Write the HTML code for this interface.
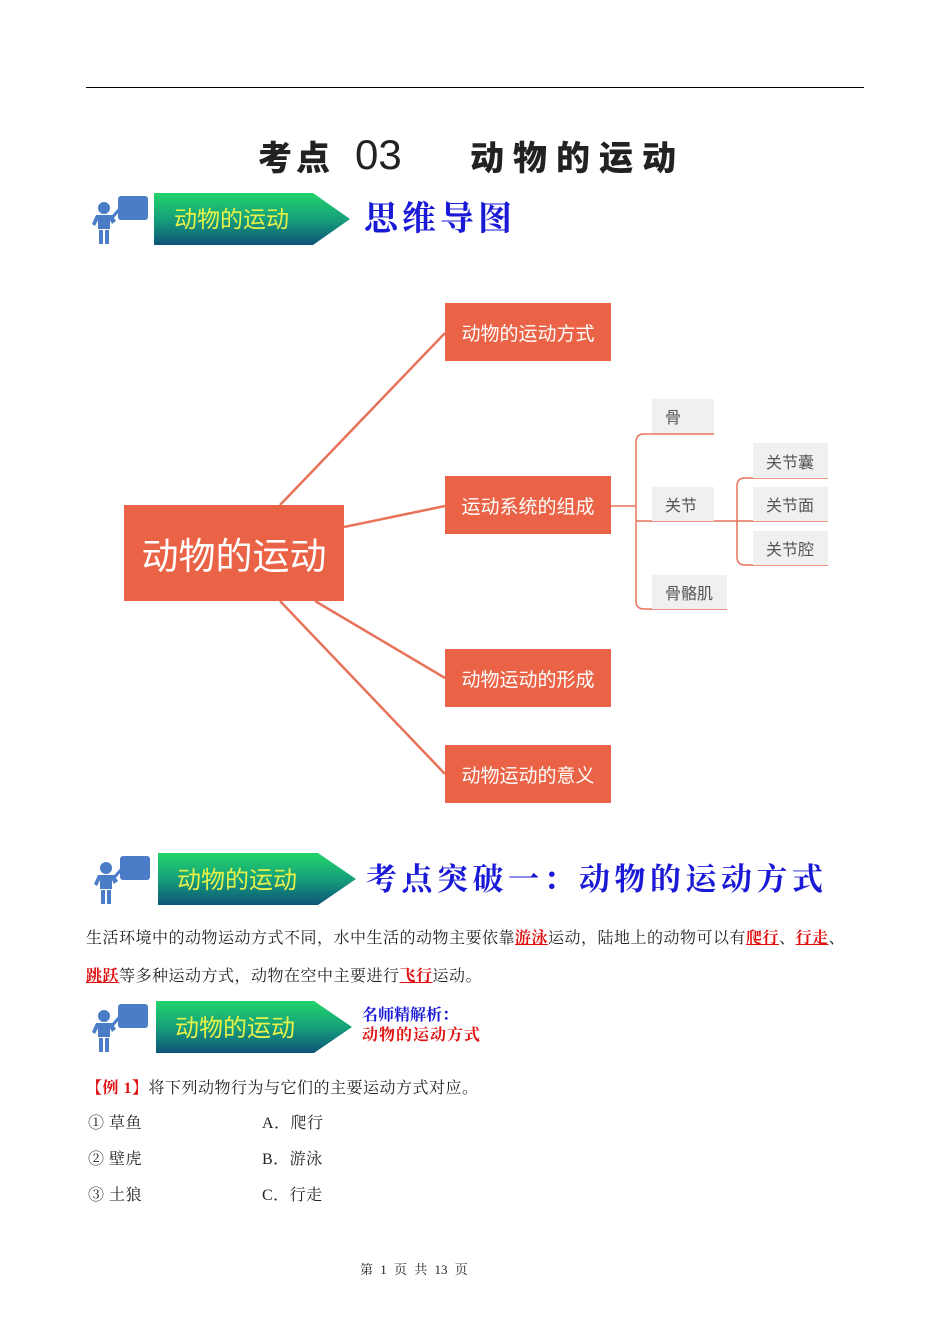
<!DOCTYPE html>
<html><head><meta charset="utf-8">
<style>
body{margin:0;background:#fff;}
#p{position:relative;width:950px;height:1344px;overflow:hidden;font-family:"Liberation Serif","Noto Serif CJK SC",serif;color:#222;}
.a{position:absolute;white-space:nowrap;}
.ob{position:absolute;background:#ea6346;color:#fff;font-family:"Liberation Sans","Noto Sans CJK SC",sans-serif;font-size:19px;display:flex;align-items:center;justify-content:center;}
.gb{position:absolute;background:#f0f0f0;color:#555;font-family:"Liberation Sans","Noto Sans CJK SC",sans-serif;font-size:16px;display:flex;align-items:center;padding-left:13px;box-sizing:border-box;}
.t{font-size:16px;letter-spacing:0.5px;}
.r{color:#e01010;text-decoration:underline;font-weight:bold;}
.h{font-family:'Noto Sans CJK SC',sans-serif;font-weight:900;font-size:34px;line-height:44px;}
</style></head><body><div id="p">
<div class="a" style="left:86px;top:87px;width:778px;height:1px;background:#000"></div>
<div class="a h" style="left:258px;top:134px;letter-spacing:4px">考点</div>
<div class="a" style="left:355px;top:132px;font-size:42px;line-height:46px;font-family:'Liberation Sans Narrow','Liberation Sans',sans-serif">03</div>
<div class="a h" style="left:470px;top:134px;letter-spacing:9px">动物的运动</div>

<svg width="0" height="0" style="position:absolute"><defs>
<linearGradient id="g" x1="0" y1="0" x2="0" y2="1"><stop offset="0" stop-color="#22d46a"/><stop offset="0.5" stop-color="#16a07a"/><stop offset="1" stop-color="#0d5478"/></linearGradient>
<g id="ic"><rect x="28" y="2" width="30" height="24" rx="3" fill="#4a7cc8"/><line x1="20" y1="26" x2="34" y2="10" stroke="#4a7cc8" stroke-width="3"/><circle cx="14" cy="14" r="6" fill="#4a7cc8"/><path d="M2 30 L6 21 L22 21 L26 27 L22 30 L20 26 L20 35 L8 35 L8 26 L5 32Z" fill="#4a7cc8"/><rect x="9" y="36" width="4" height="14" fill="#4a7cc8"/><rect x="15" y="36" width="4" height="14" fill="#4a7cc8"/></g>
</defs></svg>

<svg class="a" style="left:88px;top:192px" width="270" height="56"><use href="#ic" x="2" y="2"/><path d="M66 1 H225 L262 27 L225 53 H66Z" fill="url(#g)"/><text x="86" y="35" font-size="23" fill="#e6f24a" font-family="Noto Sans CJK SC">动物的运动</text></svg>
<div class="a" style="left:364px;top:194px;font-size:34px;letter-spacing:4px;color:#1a1ad6;font-family:'Noto Serif CJK SC',serif;font-weight:bold;line-height:44px">思维导图</div>

<svg class="a" style="left:0;top:0" width="950" height="850" fill="none" stroke="#e8735a" stroke-width="2.5">
<line x1="280" y1="505" x2="445" y2="333"/><line x1="344" y1="527" x2="445" y2="506"/>
<line x1="315" y1="601" x2="445" y2="678"/><line x1="280" y1="601" x2="445" y2="774"/>
<g stroke-width="1.5"><line x1="611" y1="506" x2="636" y2="506"/>
<path d="M714 434 H644 Q636 434 636 442 V601 Q636 609 644 609 H727"/>
<line x1="636" y1="521" x2="737" y2="521"/>
<path d="M828 478 H745 Q737 478 737 486 V557 Q737 565 745 565 H828"/>
<line x1="737" y1="521" x2="828" y2="521"/></g>
</svg>
<div class="ob" style="left:124px;top:505px;width:220px;height:96px;font-size:37px">动物的运动</div>
<div class="ob" style="left:445px;top:303px;width:166px;height:58px">动物的运动方式</div>
<div class="ob" style="left:445px;top:476px;width:166px;height:58px">运动系统的组成</div>
<div class="ob" style="left:445px;top:649px;width:166px;height:58px">动物运动的形成</div>
<div class="ob" style="left:445px;top:745px;width:166px;height:58px">动物运动的意义</div>
<div class="gb" style="left:652px;top:399px;width:62px;height:34px">骨</div>
<div class="gb" style="left:652px;top:487px;width:62px;height:34px">关节</div>
<div class="gb" style="left:652px;top:575px;width:75px;height:34px">骨骼肌</div>
<div class="gb" style="left:753px;top:443px;width:75px;height:35px">关节囊</div>
<div class="gb" style="left:753px;top:487px;width:75px;height:34px">关节面</div>
<div class="gb" style="left:753px;top:531px;width:75px;height:34px">关节腔</div>

<svg class="a" style="left:90px;top:852px" width="270" height="56"><use href="#ic" x="2" y="2"/><path d="M68 1 H228 L266 27 L228 53 H68Z" fill="url(#g)"/><text x="87" y="36" font-size="24" fill="#e6f24a" font-family="Noto Sans CJK SC">动物的运动</text></svg>
<div class="a" style="left:366px;top:856px;font-size:31px;letter-spacing:4.5px;color:#1a1ad6;font-family:'Noto Serif CJK SC',serif;font-weight:bold;line-height:42px">考点突破一：动物的运动方式</div>

<div class="a t" style="left:86px;top:928px;line-height:22px">生活环境中的动物运动方式不同，水中生活的动物主要依靠<span class="r">游泳</span>运动，陆地上的动物可以有<span class="r">爬行</span>、<span class="r">行走</span>、</div>
<div class="a t" style="left:86px;top:966px;line-height:22px"><span class="r">跳跃</span>等多种运动方式，动物在空中主要进行<span class="r">飞行</span>运动。</div>

<svg class="a" style="left:88px;top:1000px" width="270" height="56"><use href="#ic" x="2" y="2"/><path d="M68 1 H226 L264 27 L226 53 H68Z" fill="url(#g)"/><text x="87" y="36" font-size="24" fill="#e6f24a" font-family="Noto Sans CJK SC">动物的运动</text></svg>
<div class="a" style="left:362px;top:1006px;font-size:16px;font-weight:bold;color:#1a1ad6;line-height:20px">名师精解析：</div>
<div class="a" style="left:362px;top:1026px;font-size:16px;font-weight:bold;color:#e01010;line-height:20px;letter-spacing:1px">动物的运动方式</div>

<div class="a t" style="left:86px;top:1078px;line-height:22px"><span style="color:#e01010;font-weight:bold">【例 1】</span>将下列动物行为与它们的主要运动方式对应。</div>
<div class="a t" style="left:88px;top:1113px;line-height:22px">① 草鱼</div>
<div class="a t" style="left:88px;top:1149px;line-height:22px">② 壁虎</div>
<div class="a t" style="left:88px;top:1185px;line-height:22px">③ 土狼</div>
<div class="a t" style="left:262px;top:1113px;line-height:22px">A．爬行</div>
<div class="a t" style="left:262px;top:1149px;line-height:22px">B．游泳</div>
<div class="a t" style="left:262px;top:1185px;line-height:22px">C．行走</div>
<div class="a" style="left:360px;top:1261px;font-size:13px;line-height:18px;word-spacing:4px">第 1 页 共 13 页</div>
</div></body></html>
